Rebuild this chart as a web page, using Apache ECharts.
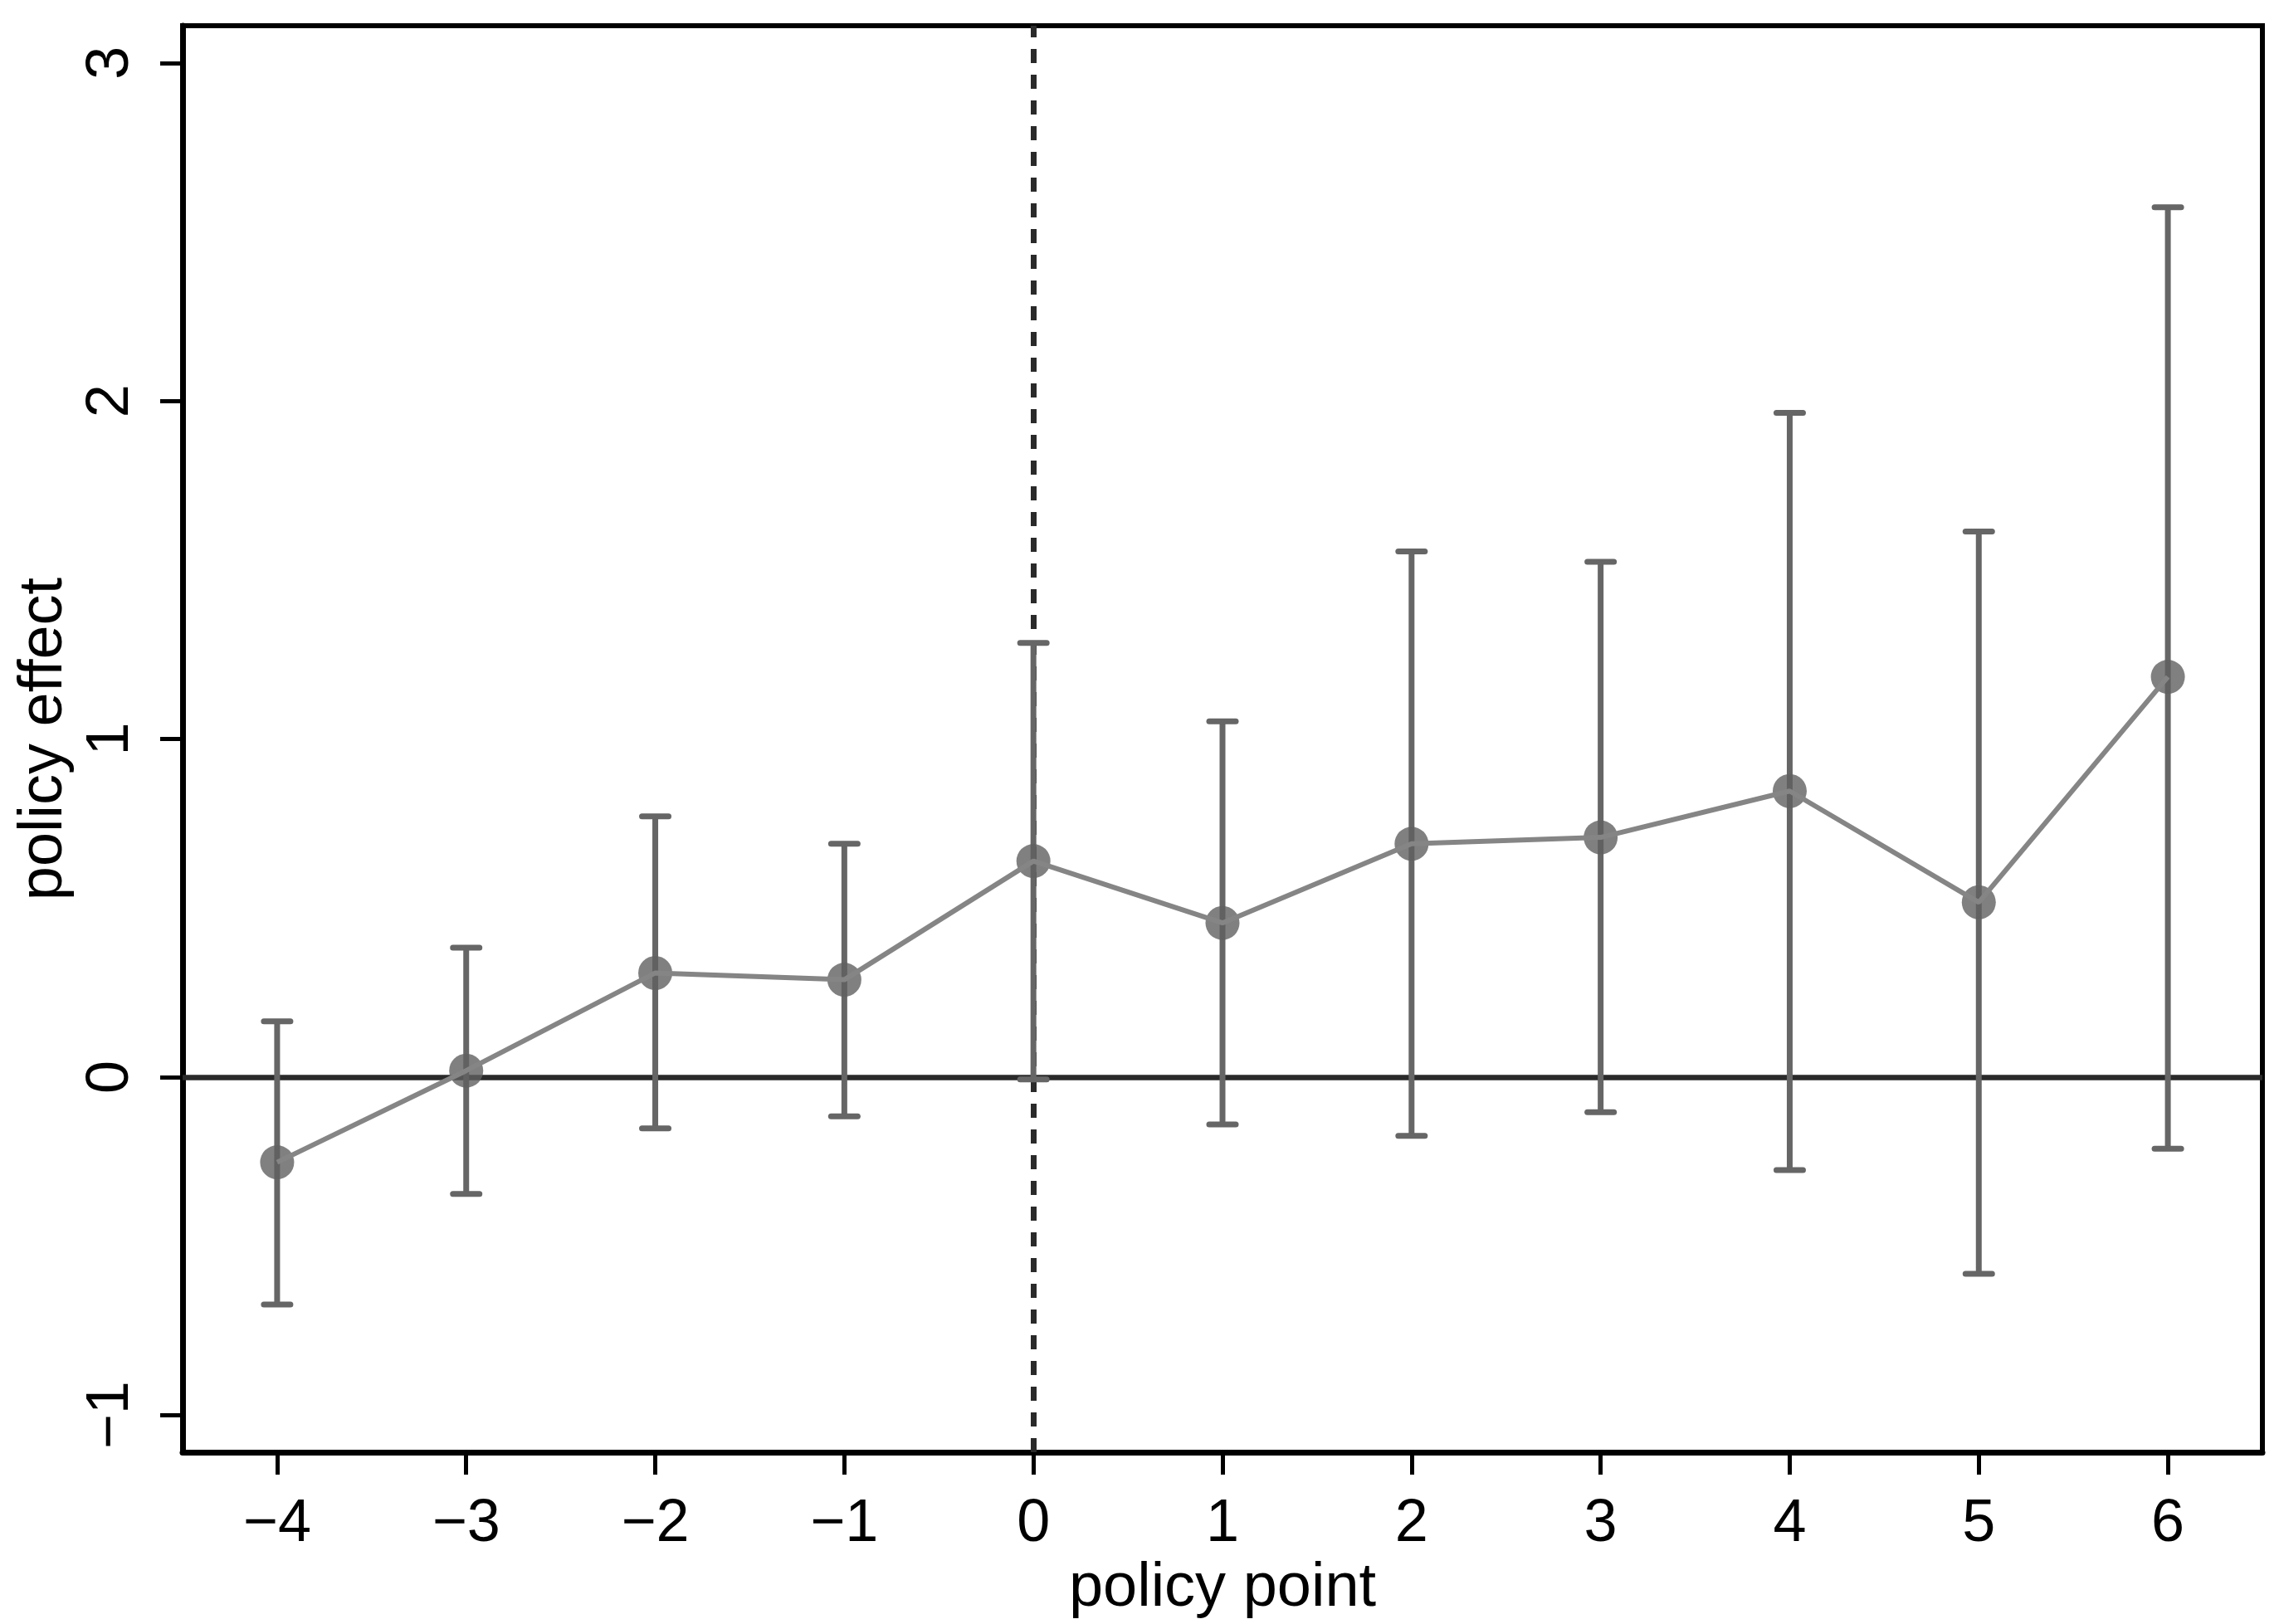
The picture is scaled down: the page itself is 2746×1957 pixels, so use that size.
<!DOCTYPE html>
<html>
<head>
<meta charset="utf-8">
<script src="https://cdn.jsdelivr.net/npm/echarts@6/dist/echarts.min.js"></script>
<style>
html,body{margin:0;padding:0;background:#fff;}
#chart{width:2746px;height:1957px;}
</style>
</head>
<body>
<div id="chart"></div>
<script>
// Data
const policyPoints = [-4, -3, -2, -1, 0, 1, 2, 3, 4, 5, 6];
const estimates = [-0.252, 0.019, 0.308, 0.288, 0.639, 0.456, 0.690, 0.709, 0.846, 0.517, 1.184];
const upperCI = [0.165, 0.383, 0.771, 0.690, 1.284, 1.052, 1.555, 1.524, 1.965, 1.614, 2.573];
const lowerCI = [-0.673, -0.346, -0.152, -0.116, -0.007, -0.140, -0.174, -0.104, -0.275, -0.582, -0.212];
const xTicks = [-4, -3, -2, -1, 0, 1, 2, 3, 4, 5, 6];
const yTicks = [-1, 0, 1, 2, 3];
const xTitle = 'policy point';
const yTitle = 'policy effect';

const FONT = 'Liberation Sans, Arial, Helvetica, sans-serif';
const fmt = v => String(v).replace('-', '\u2212');

const chart = echarts.init(document.getElementById('chart'), null, {renderer: 'canvas'});

const pointData = policyPoints.map((x, i) => [x, estimates[i]]);
const ciData = policyPoints.map((x, i) => [x, lowerCI[i], upperCI[i]]);

const option = {
  animation: false,
  backgroundColor: '#ffffff',
  grid: {
    left: 220, right: 20, top: 31, bottom: 201,
    show: true, borderColor: '#000', borderWidth: 6, backgroundColor: 'transparent'
  },
  xAxis: {
    type: 'value', min: -4.5, max: 6.5,
    axisLine: {show: true, onZero: false, lineStyle: {color: '#000', width: 7}},
    axisTick: {show: true, length: 27, customValues: xTicks, lineStyle: {color: '#000', width: 5}},
    axisLabel: {customValues: xTicks, formatter: fmt, fontSize: 72, fontFamily: FONT, color: '#000', margin: 51},
    splitLine: {show: false},
    name: xTitle, nameLocation: 'middle', nameGap: 121,
    nameTextStyle: {fontSize: 74, fontFamily: FONT, color: '#000'}
  },
  yAxis: {
    type: 'value', min: -1.11, max: 3.11,
    axisLine: {show: true, onZero: false, lineStyle: {color: '#000', width: 7}},
    axisTick: {show: true, length: 27, customValues: yTicks, lineStyle: {color: '#000', width: 5}},
    axisLabel: {customValues: yTicks, formatter: fmt, rotate: 90, fontSize: 72, fontFamily: FONT, color: '#000', margin: 50},
    splitLine: {show: false},
    name: yTitle, nameLocation: 'middle', nameGap: 123, nameRotate: 90,
    nameTextStyle: {fontSize: 74, fontFamily: FONT, color: '#000'}
  },
  series: [
    {
      type: 'line', data: [], z: 1, silent: true,
      markLine: {
        z: 1, silent: true, symbol: 'none', label: {show: false},
        data: [
          {yAxis: 0, lineStyle: {color: '#2a2a2a', width: 6.5, type: 'solid'}},
          {xAxis: 0, lineStyle: {color: '#2a2a2a', width: 7, type: [17, 14]}}
        ]
      }
    },
    {
      type: 'custom', z: 2, silent: true,
      data: ciData,
      encode: {x: 0, y: [1, 2]},
      renderItem: function (params, api) {
        const x = api.value(0);
        const pLo = api.coord([x, api.value(1)]);
        const pHi = api.coord([x, api.value(2)]);
        const hw = 16;
        const col = '#666666';
        return {
          type: 'group',
          children: [
            {type: 'line', shape: {x1: pLo[0], y1: pLo[1], x2: pHi[0], y2: pHi[1]}, style: {stroke: col, lineWidth: 7}},
            {type: 'line', shape: {x1: pHi[0] - hw, y1: pHi[1], x2: pHi[0] + hw, y2: pHi[1]}, style: {stroke: col, lineWidth: 7, lineCap: 'round'}},
            {type: 'line', shape: {x1: pLo[0] - hw, y1: pLo[1], x2: pLo[0] + hw, y2: pLo[1]}, style: {stroke: col, lineWidth: 7, lineCap: 'round'}}
          ]
        };
      }
    },
    {
      type: 'scatter', z: 3, silent: true,
      data: pointData, symbol: 'circle', symbolSize: 41,
      itemStyle: {color: '#606060'}
    },
    {
      type: 'line', z: 4, silent: true,
      data: pointData, showSymbol: false, symbol: 'none',
      lineStyle: {color: '#858585', width: 6}
    }
  ]
};
chart.setOption(option);
</script>
</body>
</html>
